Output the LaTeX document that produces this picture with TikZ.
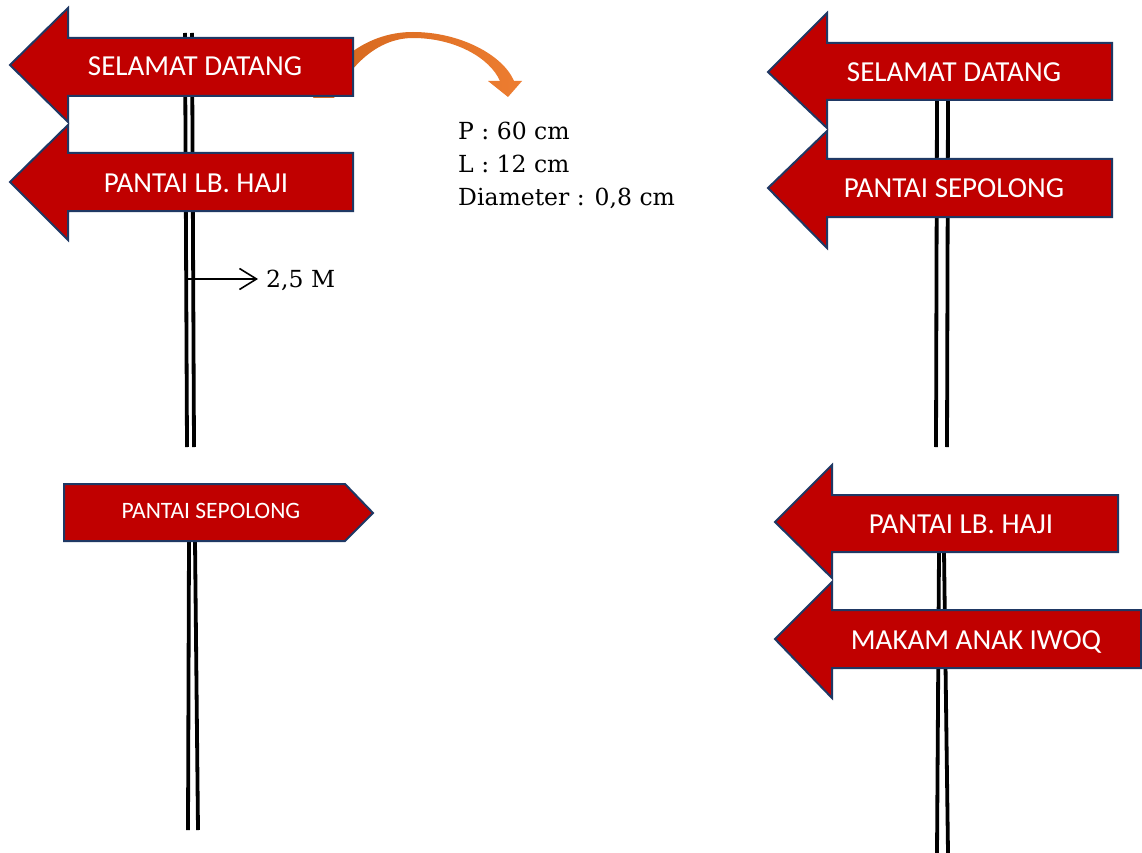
\documentclass[tikz,border=0pt]{standalone}
\usepackage{fontspec}
\newfontfamily\signfont{Carlito}
\newfontfamily\notefont{DejaVu Serif}
\usetikzlibrary{arrows.meta}
\definecolor{signred}{HTML}{C00000}
\definecolor{signedge}{HTML}{1F3864}
\definecolor{curveor}{HTML}{ED7D31}
\definecolor{curvedark}{HTML}{D4661C}
\tikzset{
  signshape/.style={fill=signred, draw=signedge, line width=2pt, line join=miter},
  signtext/.style={text=white, font=\signfont\fontsize{29}{31}\selectfont, anchor=base, inner sep=0pt},
  smalltext/.style={text=white, font=\signfont\fontsize{23.5}{25}\selectfont, anchor=base, inner sep=0pt},
  poleline/.style={draw=black, line width=3.8pt},
  notetext/.style={font=\notefont\fontsize{23.5}{30}\selectfont, anchor=base west, inner sep=0pt},
}
\begin{document}
\begin{tikzpicture}[x=1pt, y=-1pt]
\useasboundingbox (0,0) rectangle (1142,853);
\fill[white] (0,0) rectangle (1142,853);

% ---- orange curved arrow (behind sign)
\shade[left color=curvedark, right color=curveor]
  (313,98) .. controls (338,52) and (375,32) .. (413,32)
  .. controls (460,32) and (503,55) .. (514,81)
  -- (522,81) -- (508,97) -- (488,81) -- (500,81)
  .. controls (490,58) and (455,38) .. (413,38)
  .. controls (380,38) and (352,62) .. (334,98) -- cycle;

% ---- poles
\draw[poleline] (185,33) -- (187,447);
\draw[poleline] (192,33) -- (194,447);
\draw[poleline] (937,100) -- (936,447);
\draw[poleline] (948,100) -- (947,447);
\draw[poleline] (189,541) -- (188,830);
\draw[poleline] (195,541) -- (198,830);
\draw[poleline] (939,552) -- (937,853);
\draw[poleline] (944,552) -- (948,853);

% ---- top-left signs
\draw[signshape] (10,65) -- (68,8) -- (68,38) -- (353,38) -- (353,96) -- (68,96) -- (68,122) -- cycle;
\node[signtext] (tl1) at (195,76) {SELAMAT DATANG};
\draw[signshape] (10,182) -- (68,125) -- (68,153) -- (353,153) -- (353,211) -- (68,211) -- (68,240) -- cycle;
\node[signtext] (tl2) at (196,193) {PANTAI LB. HAJI};

% ---- dimension notes
\node[notetext] (np) at (458,140) {P : 60 cm};
\node[notetext] (nl) at (458,172) {L : 12 cm};
\node[notetext] (nd) at (458,205) {Diameter : 0,8 cm};

% ---- height marker
\coordinate (polept) at (187,279);
\node[notetext] (ht) at (266,287) {2,5 M};
\draw[line width=1.6pt, -{Straight Barb[length=17pt,width=21pt,line width=1.6pt]}] (polept) -- (258,279);

% ---- bottom-left sign
\draw[signshape] (64,484) -- (345,484) -- (373,513) -- (345,541) -- (64,541) -- cycle;
\node[smalltext] (bl) at (211,518) {PANTAI SEPOLONG};

% ---- top-right signs
\draw[signshape] (768,72) -- (827,13) -- (827,43) -- (1112,43) -- (1112,100) -- (827,100) -- (827,128) -- cycle;
\node[signtext] (tr1) at (954,82) {SELAMAT DATANG};
\draw[signshape] (768,188) -- (827,131) -- (827,159) -- (1112,159) -- (1112,217) -- (827,217) -- (827,248) -- cycle;
\node[signtext] (tr2) at (954,197) {PANTAI SEPOLONG};

% ---- bottom-right signs
\draw[signshape] (775,522) -- (832,465) -- (832,495) -- (1118,495) -- (1118,552) -- (832,552) -- (832,578) -- cycle;
\node[signtext] (br1) at (961,533) {PANTAI LB. HAJI};
\draw[signshape] (775,639) -- (832,582) -- (832,610) -- (1141,610) -- (1141,668) -- (832,668) -- (832,698) -- cycle;
\node[signtext] (br2) at (976,649) {MAKAM ANAK IWOQ};
\end{tikzpicture}
\end{document}
